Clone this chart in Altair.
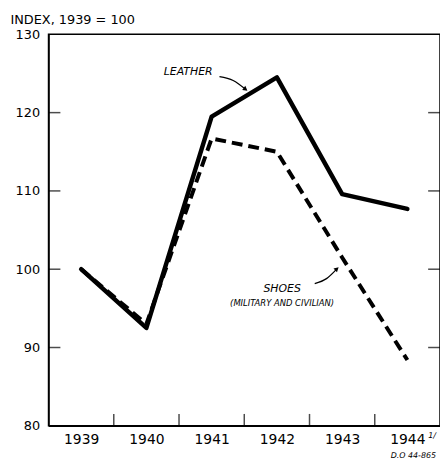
import json
import altair as alt
import pandas as pd

# ---- data ----
years = ["1939", "1940", "1941", "1942", "1943", "1944"]
leather = [100.0, 92.5, 119.5, 124.5, 109.6, 107.7]
shoes = [100.0, 93.0, 116.7, 115.0, 101.5, 88.4]
y_ticks = [80, 90, 100, 110, 120, 130]
inner_y_ticks = [90, 100, 110, 120]
x_separators = [0.5, 1.5, 2.5, 3.5, 4.5]

# annotation anchors (in data coordinates: x = year index, y = index value)
ann_text = ["LEATHER", "SHOES", "(MILITARY AND CIVILIAN)"]
ann_x = [1.64, 3.08, 3.08]
ann_y = [124.86, 97.04, 95.29]
ann_size = [11, 11, 8.5]
leather_arrow_x = [2.12, 2.33, 2.52]
leather_arrow_y = [124.61, 124.11, 122.98]
shoes_arrow_x = [3.58, 3.76, 3.92]
shoes_arrow_y = [98.17, 98.80, 100.05]

W, H = 396, 396
FONT = "DejaVu Sans"

idx = list(range(len(years)))
df = pd.DataFrame(
    {
        "i": idx * 2,
        "value": leather + shoes,
        "series": ["Leather"] * len(years) + ["Shoes"] * len(years),
    }
)

xs = alt.Scale(domain=[-0.5, 5.5], nice=False, zero=False)
ys = alt.Scale(domain=[80, 130], nice=False, zero=False)
label_expr = json.dumps(years) + "[datum.value]"

base = alt.Chart(df)

leather_line = base.transform_filter(alt.datum.series == "Leather").mark_line(
    color="black", strokeWidth=4.5, strokeJoin="round", strokeCap="round"
).encode(
    x=alt.X(
        "i:Q",
        scale=xs,
        axis=alt.Axis(
            values=idx,
            labelExpr=label_expr,
            title=None,
            ticks=False,
            grid=False,
            domainColor="black",
            domainWidth=1.5,
            labelFont=FONT,
            labelFontSize=14,
            labelColor="black",
            labelPadding=7,
            labelBaseline="top",
        ),
    ),
    y=alt.Y(
        "value:Q",
        scale=ys,
        axis=alt.Axis(
            values=y_ticks,
            ticks=False,
            grid=False,
            domainColor="black",
            domainWidth=1.5,
            labelFont=FONT,
            labelFontSize=13,
            labelColor="black",
            labelPadding=9,
            title="INDEX, 1939 = 100",
            titleAngle=0,
            titleAlign="left",
            titleBaseline="alphabetic",
            titleX=-39,
            titleY=-11,
            titleFont=FONT,
            titleFontSize=13,
            titleFontWeight="normal",
            titleColor="black",
        ),
    ),
)

shoes_line = base.transform_filter(alt.datum.series == "Shoes").mark_line(
    color="black", strokeWidth=4, strokeDash=[11, 6], strokeJoin="round"
).encode(x=alt.X("i:Q", scale=xs), y=alt.Y("value:Q", scale=ys))

# inward ticks
left_ticks = alt.Chart(pd.DataFrame({"v": inner_y_ticks})).mark_tick(
    color="black", orient="horizontal", size=12, thickness=1.5
).encode(x=alt.value(6), y=alt.Y("v:Q", scale=ys))
right_ticks = alt.Chart(pd.DataFrame({"v": inner_y_ticks})).mark_tick(
    color="black", orient="horizontal", size=12, thickness=1.5
).encode(x=alt.value(W - 6), y=alt.Y("v:Q", scale=ys))
bottom_ticks = alt.Chart(pd.DataFrame({"s": x_separators})).mark_tick(
    color="black", orient="vertical", size=12, thickness=1.5
).encode(x=alt.X("s:Q", scale=xs), y=alt.value(H - 6))

# annotations
ann_df = pd.DataFrame({"t": ann_text, "x": ann_x, "y": ann_y, "s": ann_size})
ann = alt.Chart(ann_df).mark_text(
    font=FONT, fontStyle="italic", color="black", align="center", baseline="alphabetic"
).encode(
    x=alt.X("x:Q", scale=xs),
    y=alt.Y("y:Q", scale=ys),
    text="t:N",
    size=alt.Size("s:Q", scale=None, legend=None),
)

arrow_df = pd.DataFrame(
    {
        "x": leather_arrow_x + shoes_arrow_x,
        "y": leather_arrow_y + shoes_arrow_y,
        "g": ["a"] * 3 + ["b"] * 3,
        "o": [0, 1, 2] * 2,
    }
)
arrows = alt.Chart(arrow_df).mark_line(
    color="black", strokeWidth=1.3, interpolate="monotone"
).encode(
    x=alt.X("x:Q", scale=xs),
    y=alt.Y("y:Q", scale=ys),
    detail="g:N",
    order="o:Q",
)
head_df = pd.DataFrame(
    {
        "x": [leather_arrow_x[-1], shoes_arrow_x[-1]],
        "y": [leather_arrow_y[-1], shoes_arrow_y[-1]],
        "a": [37, 318],
    }
)
heads = alt.Chart(head_df).mark_point(
    shape="triangle-right", filled=True, color="black", size=28, opacity=1
).encode(
    x=alt.X("x:Q", scale=xs),
    y=alt.Y("y:Q", scale=ys),
    angle=alt.Angle("a:Q", scale=None),
)

foot_df = pd.DataFrame({"t": ["1/", "D.O 44-865"]})
foot1 = alt.Chart(foot_df.iloc[[0]]).mark_text(
    font=FONT, fontStyle="italic", color="black", align="left", baseline="alphabetic", fontSize=8
).encode(x=alt.value(384), y=alt.value(H + 12), text="t:N")
foot2 = alt.Chart(foot_df.iloc[[1]]).mark_text(
    font=FONT, fontStyle="italic", color="black", align="right", baseline="alphabetic", fontSize=8
).encode(x=alt.value(392), y=alt.value(H + 33), text="t:N")

chart = (
    alt.layer(
        leather_line, shoes_line, left_ticks, right_ticks, bottom_ticks,
        ann, arrows, heads, foot1, foot2,
    )
    .properties(
        width=W,
        height=H,
        autosize=alt.AutoSizeParams(type="none"),
        padding={"left": 41, "top": 24, "right": 0, "bottom": 36},
        background="white",
    )
    .configure_view(stroke="black", strokeWidth=1.5)
)

chart.save("out.html", embed_options={"renderer": "svg", "actions": False})
